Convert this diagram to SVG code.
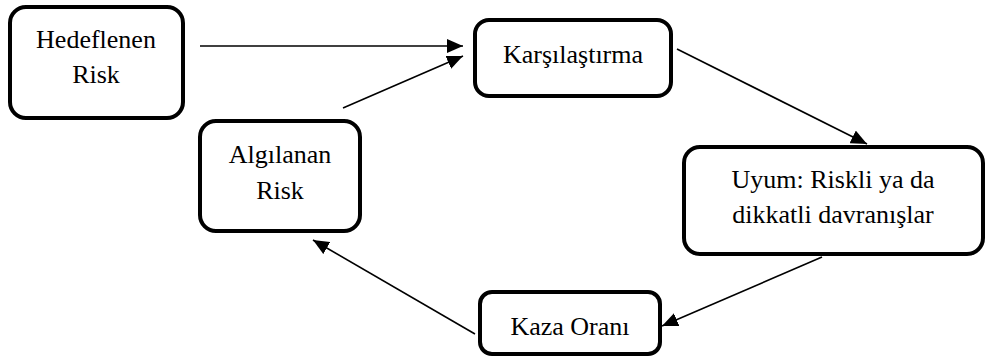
<svg xmlns="http://www.w3.org/2000/svg" width="987" height="360" viewBox="0 0 987 360">
<style>
.box{fill:#fff;stroke:#000;stroke-width:4}
.t{font-family:'Liberation Serif','Times New Roman',serif;font-size:26px;fill:#000;text-anchor:middle}
.c{stroke:#000;stroke-width:1.6;fill:none;marker-end:url(#ah)}
</style>
<defs>
<marker id="ah" viewBox="0 0 16 14" refX="16" refY="7" markerWidth="16" markerHeight="14" markerUnits="userSpaceOnUse" orient="auto">
<path d="M0,0 L16,7 L0,14 Z" fill="#000"/>
</marker>
</defs>
<rect width="987" height="360" fill="#fff"/>
<g id="connectors">
<line class="c" x1="200" y1="46" x2="463" y2="46"/>
<line class="c" x1="343" y1="108" x2="463" y2="56"/>
<line class="c" x1="677" y1="49" x2="867" y2="144"/>
<line class="c" x1="822" y1="257" x2="662" y2="326"/>
<line class="c" x1="475" y1="334" x2="313" y2="240"/>
</g>
<g id="hedeflenen">
<rect class="box" x="10" y="7" width="173" height="111" rx="16"/>
<text class="t" x="96" y="48">Hedeflenen</text>
<text class="t" x="96" y="83">Risk</text>
</g>
<g id="karsilastirma">
<rect class="box" x="475" y="20" width="196" height="76" rx="14"/>
<text class="t" x="573" y="63">Karşılaştırma</text>
</g>
<g id="algilanan">
<rect class="box" x="200" y="121" width="160" height="110" rx="16"/>
<text class="t" x="280" y="163">Algılanan</text>
<text class="t" x="280" y="199">Risk</text>
</g>
<g id="uyum">
<rect class="box" x="684" y="147" width="299" height="107" rx="16"/>
<text class="t" x="833" y="188">Uyum: Riskli ya da</text>
<text class="t" x="833" y="223">dikkatli davranışlar</text>
</g>
<g id="kaza">
<rect class="box" x="480" y="292" width="180" height="62" rx="12"/>
<text class="t" x="570" y="335">Kaza Oranı</text>
</g>
</svg>
